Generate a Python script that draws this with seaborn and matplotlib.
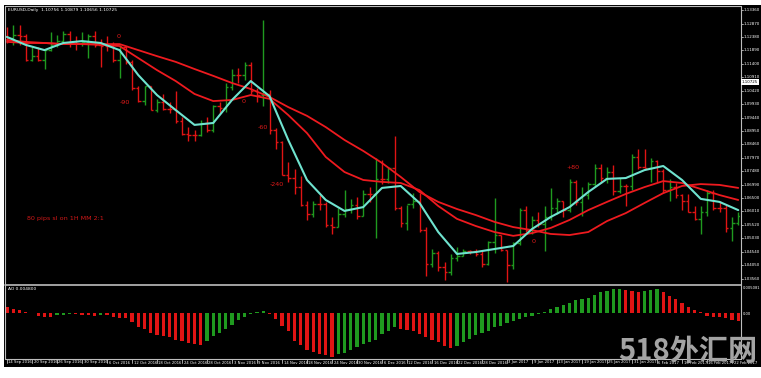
import matplotlib
matplotlib.use('Agg')
import matplotlib.pyplot as plt
from matplotlib.patches import Rectangle
import seaborn as sns
import numpy as np
import pandas as pd

# ---- EURUSD daily bars ----
opens = [1.1240, 1.1235, 1.1245, 1.1240, 1.1155, 1.1170, 1.1155, 1.1190, 1.1210, 1.1225,
         1.1250, 1.1215, 1.1215, 1.1220, 1.1240, 1.1210, 1.1205, 1.1205, 1.1155, 1.1200,
         1.1145, 1.1050, 1.1005, 1.1060, 1.0970, 1.1000, 1.0975, 1.0975, 1.0930, 1.0885,
         1.0880, 1.0880, 1.0925, 1.0900, 1.0985, 1.0980, 1.1055, 1.1100, 1.1100, 1.1135,
         1.1040, 1.1025, 1.1030, 1.0900, 1.0855, 1.0735, 1.0725, 1.0690, 1.0625, 1.0590,
         1.0630, 1.0630, 1.0550, 1.0545, 1.0590, 1.0610, 1.0625, 1.0585, 1.0665, 1.0665,
         1.0720, 1.0720, 1.0760, 1.0615, 1.0560, 1.0630, 1.0640, 1.0535, 1.0410, 1.0450,
         1.0400, 1.0380, 1.0430, 1.0440, 1.0455, 1.0455, 1.0445, 1.0410, 1.0490, 1.0515,
         1.0460, 1.0405, 1.0485, 1.0605, 1.0535, 1.0570, 1.0555, 1.0580, 1.0615, 1.0640,
         1.0605, 1.0710, 1.0635, 1.0660, 1.0700, 1.0760, 1.0725, 1.0745, 1.0675, 1.0695,
         1.0695, 1.0800, 1.0765, 1.0760, 1.0785, 1.0750, 1.0680, 1.0690, 1.0660, 1.0640,
         1.0600, 1.0575, 1.0600, 1.0670, 1.0615, 1.0615, 1.0540, 1.0560]
highs = [1.1275, 1.1280, 1.1280, 1.1250, 1.1200, 1.1200, 1.1190, 1.1255, 1.1245, 1.1260,
         1.1260, 1.1240, 1.1255, 1.1250, 1.1260, 1.1230, 1.1240, 1.1220, 1.1210, 1.1205,
         1.1155, 1.1060, 1.1060, 1.1060, 1.1010, 1.1030, 1.1000, 1.1040, 1.0945, 1.0910,
         1.0900, 1.0935, 1.0945, 1.0990, 1.1000, 1.1070, 1.1120, 1.1125, 1.1145, 1.1145,
         1.1050, 1.1300, 1.1045, 1.0905, 1.0860, 1.0780, 1.0755, 1.0730, 1.0640, 1.0640,
         1.0660, 1.0635, 1.0580, 1.0615, 1.0680, 1.0645, 1.0655, 1.0680, 1.0690, 1.0795,
         1.0790, 1.0765, 1.0875, 1.0620, 1.0625, 1.0670, 1.0670, 1.0545, 1.0465, 1.0455,
         1.0415, 1.0445, 1.0470, 1.0465, 1.0460, 1.0465, 1.0455, 1.0495, 1.0650, 1.0515,
         1.0460, 1.0490, 1.0615, 1.0620, 1.0585, 1.0600, 1.0620, 1.0685, 1.0650, 1.0640,
         1.0720, 1.0715, 1.0690, 1.0710, 1.0775, 1.0775, 1.0765, 1.0770, 1.0725, 1.0700,
         1.0810, 1.0830, 1.0830, 1.0795, 1.0790, 1.0755, 1.0720, 1.0705, 1.0665, 1.0665,
         1.0620, 1.0620, 1.0680, 1.0680, 1.0640, 1.0625, 1.0580, 1.0600]
lows = [1.1215, 1.1210, 1.1210, 1.1150, 1.1150, 1.1150, 1.1120, 1.1185, 1.1200, 1.1215,
        1.1200, 1.1190, 1.1205, 1.1160, 1.1200, 1.1130, 1.1185, 1.1145, 1.1090, 1.1140,
        1.1045, 1.1000, 1.0990, 1.0970, 1.0965, 1.0970, 1.0960, 1.0925, 1.0880, 1.0860,
        1.0860, 1.0875, 1.0890, 1.0890, 1.0960, 1.0965, 1.1045, 1.1070, 1.1080, 1.1030,
        1.1000, 1.0985, 1.0885, 1.0830, 1.0735, 1.0710, 1.0665, 1.0620, 1.0570, 1.0580,
        1.0605, 1.0545, 1.0520, 1.0545, 1.0580, 1.0595, 1.0575, 1.0585, 1.0635, 1.0505,
        1.0700, 1.0705, 1.0605, 1.0545, 1.0535, 1.0615, 1.0525, 1.0365, 1.0400, 1.0385,
        1.0352, 1.0370, 1.0420, 1.0440, 1.0445, 1.0440, 1.0400, 1.0405, 1.0450, 1.0455,
        1.0345, 1.0390, 1.0480, 1.0525, 1.0520, 1.0545, 1.0455, 1.0570, 1.0590, 1.0580,
        1.0600, 1.0625, 1.0585, 1.0645, 1.0690, 1.0705, 1.0705, 1.0660, 1.0670, 1.0620,
        1.0680, 1.0755, 1.0760, 1.0710, 1.0710, 1.0670, 1.0640, 1.0650, 1.0605, 1.0600,
        1.0570, 1.0520, 1.0585, 1.0605, 1.0600, 1.0525, 1.0495, 1.0550]
closes = [1.1235, 1.1245, 1.1240, 1.1155, 1.1170, 1.1155, 1.1190, 1.1210, 1.1225, 1.1250,
          1.1215, 1.1215, 1.1220, 1.1240, 1.1210, 1.1205, 1.1205, 1.1155, 1.1200, 1.1145,
          1.1050, 1.1005, 1.1060, 1.0970, 1.1000, 1.0975, 1.0975, 1.0930, 1.0885, 1.0880,
          1.0880, 1.0925, 1.0900, 1.0985, 1.0980, 1.1055, 1.1100, 1.1100, 1.1135, 1.1040,
          1.1025, 1.1030, 1.0900, 1.0855, 1.0735, 1.0725, 1.0690, 1.0625, 1.0590, 1.0630,
          1.0630, 1.0550, 1.0545, 1.0590, 1.0610, 1.0625, 1.0585, 1.0665, 1.0665, 1.0720,
          1.0720, 1.0760, 1.0615, 1.0560, 1.0630, 1.0640, 1.0535, 1.0410, 1.0450, 1.0400,
          1.0380, 1.0430, 1.0440, 1.0455, 1.0455, 1.0445, 1.0410, 1.0490, 1.0515, 1.0460,
          1.0405, 1.0485, 1.0605, 1.0535, 1.0570, 1.0555, 1.0580, 1.0615, 1.0640, 1.0605,
          1.0710, 1.0635, 1.0660, 1.0700, 1.0760, 1.0725, 1.0745, 1.0675, 1.0695, 1.0695,
          1.0800, 1.0765, 1.0760, 1.0785, 1.0750, 1.0680, 1.0690, 1.0660, 1.0640, 1.0600,
          1.0575, 1.0600, 1.0670, 1.0615, 1.0615, 1.0540, 1.0560, 1.0585]

# moving averages, read every third bar
ma_idx = list(range(0, 118, 3))
ma_fast = [1.1238, 1.1209, 1.1190, 1.1216, 1.1223, 1.1216, 1.1190, 1.1099, 1.1026, 1.0971,
           1.0917, 1.0924, 1.1008, 1.1077, 1.1022, 1.0862, 1.0716, 1.0643, 1.0603, 1.0617,
           1.0687, 1.0694, 1.0632, 1.0526, 1.0446, 1.0453, 1.0464, 1.0475, 1.0537, 1.0581,
           1.0617, 1.0672, 1.0720, 1.0723, 1.0752, 1.0767, 1.0716, 1.0647, 1.0636, 1.0606]
ma_mid = [1.1227, 1.1220, 1.1216, 1.1212, 1.1212, 1.1209, 1.1205, 1.1161, 1.1117, 1.1077,
          1.1030, 1.1004, 1.1008, 1.1026, 1.1012, 1.0953, 1.0887, 1.0800, 1.0745, 1.0716,
          1.0709, 1.0705, 1.0679, 1.0621, 1.0574, 1.0548, 1.0526, 1.0512, 1.0522, 1.0541,
          1.0570, 1.0606, 1.0636, 1.0665, 1.0690, 1.0712, 1.0705, 1.0683, 1.0661, 1.0643]
ma_slow = [1.1220, 1.1216, 1.1216, 1.1212, 1.1212, 1.1212, 1.1212, 1.1190, 1.1168, 1.1147,
           1.1121, 1.1096, 1.1070, 1.1048, 1.1019, 1.0982, 1.0950, 1.0909, 1.0862, 1.0822,
           1.0778, 1.0727, 1.0672, 1.0636, 1.0610, 1.0588, 1.0563, 1.0544, 1.0533, 1.0519,
           1.0515, 1.0526, 1.0566, 1.0595, 1.0632, 1.0668, 1.0694, 1.0701, 1.0698, 1.0687]

# Awesome Oscillator
ao = [0.0011, 0.0008, 0.0006, 0.0002, 0.0000, -0.0005, -0.0007, -0.0008, -0.0004, -0.0003,
      -0.0001, -0.0002, -0.0003, -0.0004, -0.0005, -0.0003, -0.0004, -0.0007, -0.0009, -0.0010,
      -0.0018, -0.0027, -0.0031, -0.0040, -0.0044, -0.0046, -0.0048, -0.0052, -0.0054, -0.0059,
      -0.0061, -0.0062, -0.0054, -0.0046, -0.0040, -0.0031, -0.0023, -0.0013, -0.0007, -0.0002,
      0.0002, 0.0003, -0.0002, -0.0012, -0.0025, -0.0035, -0.0054, -0.0062, -0.0073, -0.0076,
      -0.0080, -0.0082, -0.0086, -0.0080, -0.0078, -0.0073, -0.0067, -0.0061, -0.0056, -0.0053,
      -0.0041, -0.0036, -0.0028, -0.0031, -0.0033, -0.0036, -0.0041, -0.0048, -0.0053, -0.0057,
      -0.0064, -0.0069, -0.0064, -0.0057, -0.0051, -0.0044, -0.0040, -0.0035, -0.0028, -0.0025,
      -0.0020, -0.0016, -0.0012, -0.0008, -0.0005, -0.0002, 0.0001, 0.0008, 0.0012, 0.0016,
      0.0019, 0.0025, 0.0027, 0.0029, 0.0036, 0.0041, 0.0044, 0.0047, 0.0048, 0.0045,
      0.0044, 0.0042, 0.0044, 0.0046, 0.0047, 0.0041, 0.0034, 0.0027, 0.0019, 0.0011,
      0.0006, 0.0001, -0.0005, -0.0007, -0.0008, -0.0010, -0.0014, -0.0015]

date_labels = ['14 Sep 2016', '20 Sep 2016', '26 Sep 2016', '30 Sep 2016', '6 Oct 2016',
               '12 Oct 2016', '18 Oct 2016', '24 Oct 2016', '28 Oct 2016', '3 Nov 2016',
               '9 Nov 2016', '14 Nov 2016', '18 Nov 2016', '24 Nov 2016', '30 Nov 2016',
               '6 Dec 2016', '12 Dec 2016', '16 Dec 2016', '22 Dec 2016', '28 Dec 2016',
               '3 Jan 2017', '9 Jan 2017', '13 Jan 2017', '19 Jan 2017', '25 Jan 2017',
               '31 Jan 2017', '6 Feb 2017', '10 Feb 2017', '16 Feb 2017', '22 Feb 2017']
price_ticks = [1.13360, 1.12870, 1.12380, 1.11890, 1.11400, 1.10910, 1.10420, 1.09930,
               1.09440, 1.08950, 1.08460, 1.07970, 1.07480, 1.06990, 1.06500, 1.06010,
               1.05520, 1.05030, 1.04540, 1.04050, 1.03560]
last_price = 1.10725
ao_ticks = [0.005081, 0.0]

notes = ['0', '-90', '0', '-60', '-240', '0', '+80']
note_x = [17.8, 18.9, 37.8, 41.0, 43.2, 84.2, 90.6]
note_y = [1.1241, 1.0997, 1.1001, 1.0906, 1.0698, 1.0490, 1.0760]

W, H = 761, 378
GREEN = '#1f9a1f'
RED = '#e01414'
CYAN = '#6fe3cf'
MARED = '#ee1a1f'

sns.set_theme(style='dark', rc={'axes.facecolor': 'black'})
plt.rcParams['font.family'] = ['DejaVu Sans']

fig = plt.figure(figsize=(W / 100, H / 100), dpi=100, facecolor='white')


def fx(x):
    return x / W


def fy(y):
    return 1 - y / H


fig.patches.append(Rectangle((fx(4), fy(367)), fx(757), (367 - 5) / H, transform=fig.transFigure,
                             facecolor='black', edgecolor='none', zorder=-5))

ax = fig.add_axes([fx(5), fy(284), fx(735), 278 / H])
ax2 = fig.add_axes([fx(5), fy(358), fx(735), 72 / H])

xlim = (-0.32, -0.32 + 735 / 6.25)
idx = np.arange(len(closes))

# --- price bars ---
bars = pd.DataFrame({'i': idx, 'o': opens, 'h': highs, 'l': lows, 'c': closes})
bars['col'] = np.where(bars['c'] > bars['o'], GREEN, RED)
ax.vlines(bars['i'], bars['l'], bars['h'], colors=bars['col'], lw=1.0)
ax.hlines(bars['o'], bars['i'] - 0.4, bars['i'], colors=bars['col'], lw=1.0)
ax.hlines(bars['c'], bars['i'], bars['i'] + 0.4, colors=bars['col'], lw=1.0)

sns.lineplot(x=ma_idx, y=ma_slow, color=MARED, lw=1.3, ax=ax)
sns.lineplot(x=ma_idx, y=ma_mid, color=MARED, lw=1.3, ax=ax)
sns.lineplot(x=ma_idx, y=ma_fast, color=CYAN, lw=1.5, ax=ax)

for t, x, y in zip(notes, note_x, note_y):
    ax.text(x, y, t, color='#e01a1a', fontsize=4.6, ha='center', va='center')
ax.text(3.2, 1.0577, '80 pips sl on 1H MM 2:1', color='#d01818', fontsize=4.6, va='center')

ax.set_xlim(xlim)
ax.set_ylim(1.03363, 1.1351)
ax.set_xticks([])
ax.set_yticks([])
ax.set_xlabel('')
ax.set_ylabel('')
for s in ax.spines.values():
    s.set_visible(False)

# --- AO histogram ---
ao_df = pd.DataFrame({'i': idx, 'ao': ao})
ao_df['dir'] = np.where(ao_df['ao'].diff().fillna(-1) > 0, 'up', 'down')
sns.barplot(data=ao_df, x='i', y='ao', hue='dir', palette={'up': GREEN, 'down': RED},
            native_scale=True, width=0.55, errorbar=None, legend=False, ax=ax2,
            linewidth=0, saturation=1)
ax2.set_xlim(xlim)
ax2.set_ylim(-0.00882, 0.00529)
ax2.set_xticks([])
ax2.set_yticks([])
ax2.set_xlabel('')
ax2.set_ylabel('')
for s in ax2.spines.values():
    s.set_visible(False)

# --- frame lines ---
grey = '#bdbdbd'
fig.add_artist(plt.Line2D([fx(4.5), fx(4.5)], [fy(6), fy(359)], color=grey, lw=0.8))
fig.add_artist(plt.Line2D([fx(4.5), fx(740.5)], [fy(5.5), fy(5.5)], color=grey, lw=0.8))
fig.add_artist(plt.Line2D([fx(740.5), fx(740.5)], [fy(6), fy(359)], color=grey, lw=0.8))
fig.add_artist(plt.Line2D([fx(4.5), fx(740.5)], [fy(284.5), fy(284.5)], color=grey, lw=1.2))
fig.add_artist(plt.Line2D([fx(4.5), fx(740.5)], [fy(358.5), fy(358.5)], color=grey, lw=0.8))

# price axis labels
p_top, p_bot = 1.1351, 1.03363
for p in price_ticks:
    y = 6 + (p_top - p) / (p_top - p_bot) * 278
    fig.add_artist(plt.Line2D([fx(740.5), fx(743)], [fy(y), fy(y)], color=grey, lw=0.6))
    fig.text(fx(744), fy(y), f'{p:.5f}', color='white', fontsize=2.9, va='center')
y = 6 + (p_top - last_price) / (p_top - p_bot) * 278
fig.text(fx(742), fy(y), f'{last_price:.5f}', color='black', fontsize=2.9, va='center',
         bbox=dict(facecolor='white', edgecolor='none', pad=0.6))

for v in ao_ticks:
    y = 286 + (0.00529 - v) / (0.00529 + 0.00882) * 72
    fig.text(fx(743), fy(y + 1), f'{v:.6f}' if v else '0.00', color='white', fontsize=2.6,
             va='center')

# date labels
for k, lab in enumerate(date_labels):
    xp = 5 + (k * 4 - xlim[0]) * 6.25
    fig.add_artist(plt.Line2D([fx(xp), fx(xp)], [fy(359), fy(363)], color=grey, lw=0.6))
    fig.text(fx(xp + 1.5), fy(362.5), lab, color='white', fontsize=2.7, va='center')

fig.text(fx(8), fy(10), 'EURUSD,Daily  1.10756 1.10879 1.10656 1.10725', color='white',
         fontsize=3.2, va='center')
fig.text(fx(8), fy(289.5), 'AO 0.004800', color='white', fontsize=3.2, va='center')

fig.text(fx(688), fy(351), '518外汇网', color='#a3a3a3', fontsize=21, fontweight='bold',
         ha='center', va='center', family=['Noto Sans CJK SC', 'DejaVu Sans'])

fig.savefig('out.png', dpi=100, facecolor='white')
